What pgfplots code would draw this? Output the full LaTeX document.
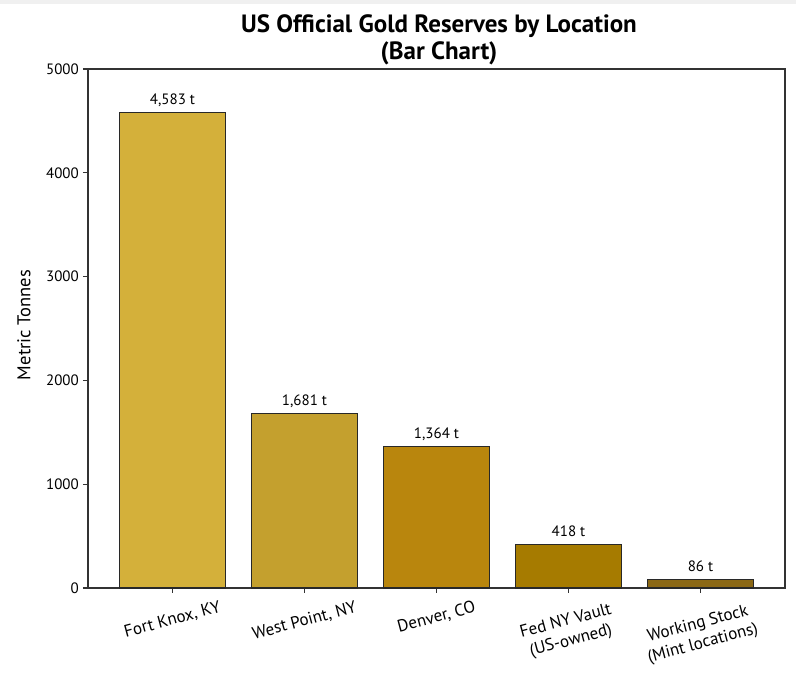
\documentclass[border=0pt]{standalone}
\usepackage{pgfplots}
\pgfplotsset{compat=1.18}
\usepackage{fontspec}
\setmainfont{PT Sans}
\usepackage{graphicx}
\definecolor{cA}{RGB}{212,176,58}
\definecolor{cB}{RGB}{196,160,46}
\definecolor{cC}{RGB}{185,134,13}
\definecolor{cD}{RGB}{166,123,0}
\definecolor{cE}{RGB}{139,104,21}
\definecolor{edge}{RGB}{40,40,40}
\newcommand{\tickfont}{\fontsize{15}{18}\selectfont}
\newcommand{\xfont}{\fontsize{17}{20}\selectfont}
\begin{document}
\begin{tikzpicture}
\path[use as bounding box] (0,0) rectangle (796pt,674pt);
\fill[black!6] (0,670pt) rectangle (796pt,674pt);
\begin{axis}[
  at={(88pt,86pt)}, anchor=south west,
  width=697pt, height=519pt, scale only axis,
  xmin=-0.64, xmax=4.64, ymin=0, ymax=5000,
  ytick={0,1000,2000,3000,4000,5000},
  xtick={0,1,2,3,4},
  xticklabels={
    {\rotatebox{15}{Fort Knox, KY}},
    {\rotatebox{15}{West Point, NY}},
    {\rotatebox{15}{Denver, CO}},
    {\rotatebox{15}{\begin{tabular}{@{}c@{}}Fed NY Vault\\(US-owned)\end{tabular}}},
    {\rotatebox{15}{\begin{tabular}{@{}c@{}}Working Stock\\(Mint locations)\end{tabular}}}
  },
  tick align=outside, major tick length=5pt,
  xtick pos=bottom, ytick pos=left,
  axis line style={line width=1.1pt, black!80},
  every tick/.style={line width=1.1pt, black!80},
  scaled y ticks=false,
  /pgf/number format/assume math mode=true,
  /pgf/number format/1000 sep={},
  yticklabel style={font=\tickfont, inner sep=0pt, xshift=-4pt},
  xticklabel style={font=\xfont, inner sep=0pt, anchor=north, yshift=-7pt},
  ybar, bar width=105.6pt, bar shift=0pt,
  nodes near coords={\pgfmathprintnumber[fixed,precision=0,1000 sep={,}]{\pgfplotspointmeta} t},
  every node near coord/.style={font=\tickfont, anchor=base, inner sep=0pt, yshift=8pt, color=black},
  clip=false,
]
\addplot[fill=cA, draw=edge, line width=1.1pt] coordinates {(0,4583)};
\addplot[fill=cB, draw=edge, line width=1.1pt] coordinates {(1,1681)};
\addplot[fill=cC, draw=edge, line width=1.1pt] coordinates {(2,1364)};
\addplot[fill=cD, draw=edge, line width=1.1pt] coordinates {(3,418)};
\addplot[fill=cE, draw=edge, line width=1.1pt] coordinates {(4,86)};
\end{axis}
\node[font=\fontsize{25}{30}\selectfont\bfseries, anchor=base] at (439pt,641pt) {US Official Gold Reserves by Location};
\node[font=\fontsize{25}{30}\selectfont\bfseries, anchor=base] at (439pt,614pt) {(Bar Chart)};
\node[font=\fontsize{18.5}{22}\selectfont, rotate=90, anchor=center] at (24pt,349pt) {Metric Tonnes};
\end{tikzpicture}
\end{document}
